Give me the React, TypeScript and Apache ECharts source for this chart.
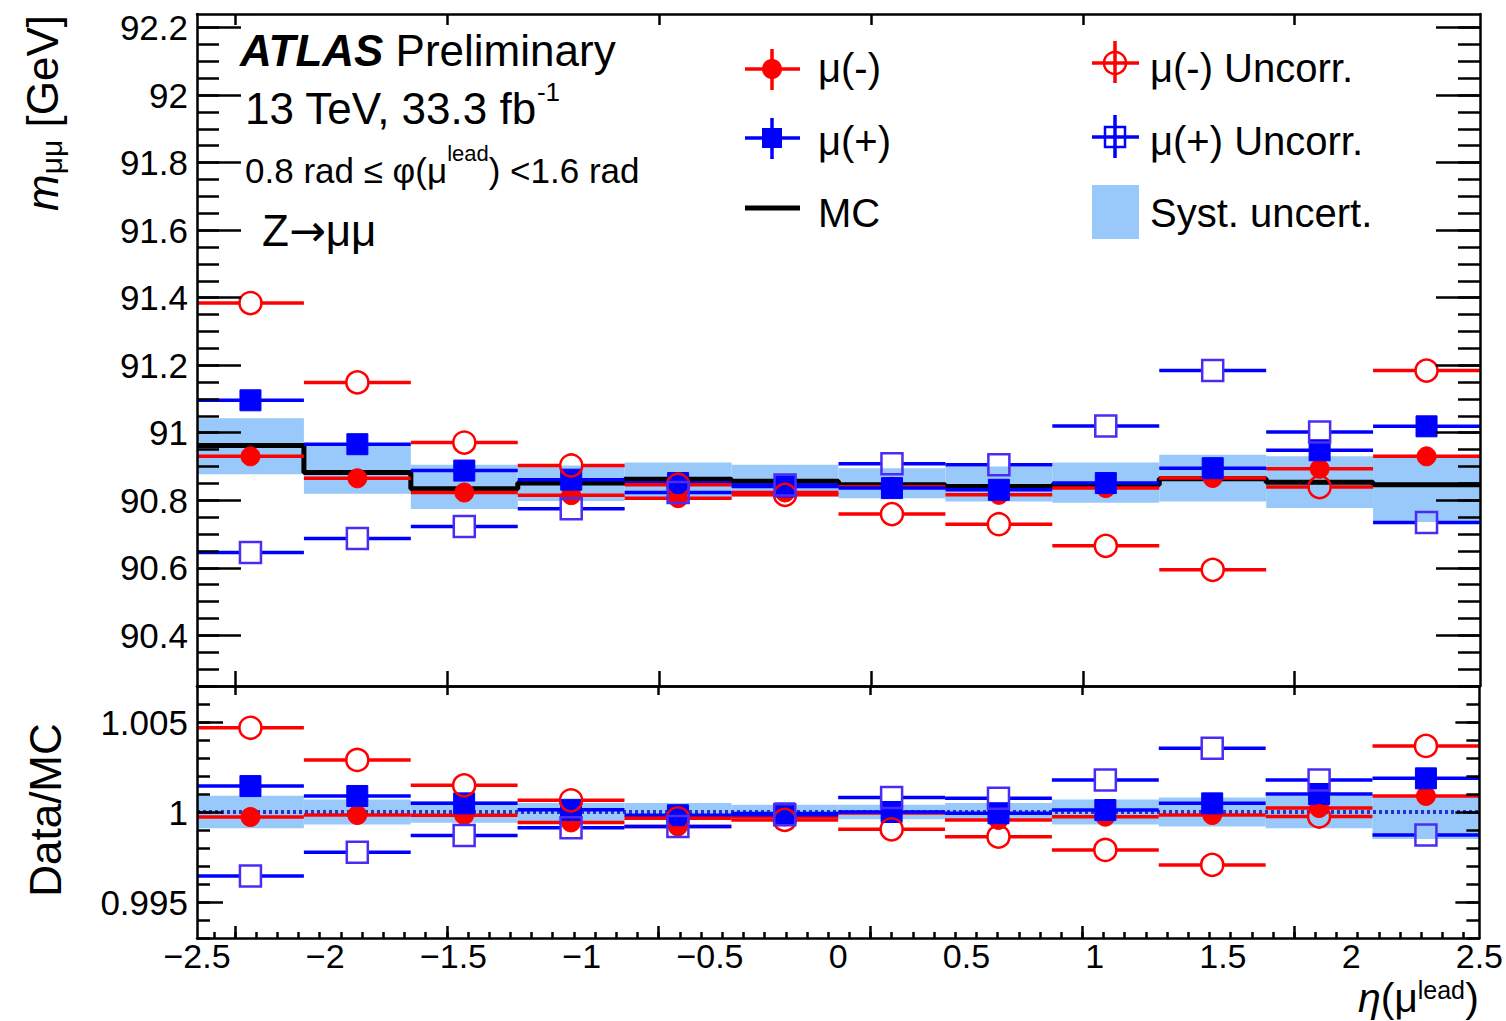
import React, { useEffect, useRef } from "react";
import * as echarts from "echarts";

const FONT = "'Liberation Sans', Arial, Helvetica, sans-serif";
const RED = "#ff0000";
const BLUE = "#0000ff";
const BLUE_OPEN = "#4a2cf5";
const BAND = "#99c9fa";

// eta(mu lead) binning
const binEdges = [-2.5, -2.0833, -1.6667, -1.25, -0.8333, -0.4167, 0, 0.4167, 0.8333, 1.25, 1.6667, 2.0833, 2.5];

// top panel: m_mumu [GeV]
const mcMass = [90.962, 90.882, 90.834, 90.851, 90.862, 90.856, 90.846, 90.841, 90.846, 90.864, 90.853, 90.846];
const systLow = [90.877, 90.819, 90.774, 90.798, 90.801, 90.811, 90.806, 90.796, 90.793, 90.796, 90.777, 90.736];
const systHigh = [91.043, 90.964, 90.905, 90.903, 90.912, 90.905, 90.895, 90.9, 90.912, 90.935, 90.93, 90.929];
const muMinus = [90.93, 90.865, 90.823, 90.815, 90.806, 90.823, 90.84, 90.816, 90.836, 90.866, 90.893, 90.93];
const muPlus = [91.096, 90.966, 90.888, 90.861, 90.851, 90.841, 90.836, 90.831, 90.851, 90.895, 90.948, 91.019];
const muMinusUncorr = [91.384, 91.149, 90.971, 90.903, 90.846, 90.816, 90.759, 90.729, 90.665, 90.594, 90.839, 91.184];
const muPlusUncorr = [90.645, 90.687, 90.722, 90.775, 90.823, 90.845, 90.908, 90.905, 91.02, 91.184, 91.002, 90.734];

// bottom panel: Data/MC
const ratioSystLow = [0.9991, 0.9993, 0.9994, 0.9995, 0.99955, 0.99955, 0.9996, 0.9996, 0.9993, 0.9992, 0.9991, 0.9985];
const ratioSystHigh = [1.0009, 1.0007, 1.0006, 1.0005, 1.0005, 1.0004, 1.0004, 1.0005, 1.0007, 1.0008, 1.0009, 1.0009];
const ratioMuMinus = [0.99972, 0.99983, 0.99982, 0.99942, 0.9992, 0.99975, 0.99994, 0.99956, 0.99974, 0.99983, 1.00022, 1.00089];
const ratioMuPlus = [1.00144, 1.00089, 1.00048, 1.00012, 0.99982, 0.99992, 1.0, 0.99993, 1.00011, 1.00048, 1.001, 1.00187];
const ratioMuMinusUncorr = [1.00468, 1.00289, 1.00148, 1.00065, 0.99965, 0.99956, 0.99904, 0.99863, 0.99789, 0.99706, 0.99975, 1.00367];
const ratioMuPlusUncorr = [0.99644, 0.99776, 0.9987, 0.99912, 0.9992, 0.99985, 1.0008, 1.00076, 1.00178, 1.00354, 1.00178, 0.99872];
const ratioRef = 1;

// axis ticks / labels
const xTickLabels = [-2.5, -2, -1.5, -1, -0.5, 0, 0.5, 1, 1.5, 2, 2.5];
const massTickLabels = [90.4, 90.6, 90.8, 91, 91.2, 91.4, 91.6, 91.8, 92, 92.2];
const ratioTickLabels = [0.995, 1, 1.005];
const frameTicksX = [-2.352, -1.526, -0.7, 0.126, 0.952, 1.778];

function steps(start: number, step: number, end: number) {
  const out: number[] = [];
  for (let k = 0; start + k * step <= end + 1e-9; k++) out.push(Number((start + k * step).toFixed(5)));
  return out;
}
const massMinorTicks = steps(90.25, 0.05, 92.24);
const ratioMinorTicks = steps(0.993, 0.001, 1.007);
const xMinorTicks = steps(-2.4346, 0.0826, 2.5);

const binCenters = binEdges.slice(0, -1).map((e, i) => (e + binEdges[i + 1]) / 2);

const tickLine = { color: "#000", width: 2.5 };
const frameLine = { color: "#000", width: 2.5 };

function xAx(grid: number, pos: string, ticks: number[], len: number, line = true, labels = false) {
  return {
    type: "value", gridIndex: grid, position: pos, min: -2.5, max: 2.5, z: 10,
    axisLine: { show: line, onZero: false, lineStyle: frameLine },
    axisTick: { show: true, inside: true, length: len, customValues: ticks, lineStyle: tickLine },
    axisLabel: labels
      ? {
          show: true, customValues: xTickLabels, margin: 1, fontSize: 34, lineHeight: 34, fontFamily: FONT, color: "#000",
          formatter: (v: number) => String(Number(v.toFixed(2))).replace("-", "\u2212"),
        }
      : { show: false },
    splitLine: { show: false },
  };
}

function yAx(grid: number, pos: string, min: number, max: number, ticks: number[], len: number, line = true, labels: number[] | null = null, digits = 2) {
  return {
    type: "value", gridIndex: grid, position: pos, min, max, z: 10,
    axisLine: { show: line, onZero: false, lineStyle: frameLine },
    axisTick: { show: true, inside: true, length: len, customValues: ticks, lineStyle: tickLine },
    axisLabel: labels
      ? {
          show: true, customValues: labels, margin: 9, fontSize: 35, fontFamily: FONT, color: "#000",
          formatter: (v: number) => String(Number(v.toFixed(digits))),
        }
      : { show: false },
    splitLine: { show: false },
  };
}

function bandSeries(name: string, low: number[], high: number[], xi: number, yi: number) {
  return {
    type: "custom", name, xAxisIndex: xi, yAxisIndex: yi, z: 2, silent: true,
    encode: { x: [0, 1], y: [2, 3] },
    data: low.map((l, i) => [binEdges[i], binEdges[i + 1], l, high[i]]),
    renderItem: (params: any, api: any) => {
      const p1 = api.coord([api.value(0), api.value(3)]);
      const p2 = api.coord([api.value(1), api.value(2)]);
      return {
        type: "rect",
        shape: { x: p1[0], y: p1[1], width: p2[0] - p1[0], height: p2[1] - p1[1] },
        style: { fill: BAND },
      };
    },
  };
}

function pointSeries(name: string, values: number[], xi: number, yi: number, marker: "circle" | "square", filled: boolean, lineColor: string, markColor: string, z: number) {
  const size = marker === "circle" ? (filled ? 9.5 : 11) : 10.5;
  return {
    type: "custom", name, xAxisIndex: xi, yAxisIndex: yi, z, silent: true,
    encode: { x: [0, 1, 2], y: 3 },
    data: values.map((v, i) => [binEdges[i], binCenters[i], binEdges[i + 1], v]),
    renderItem: (params: any, api: any) => {
      const y = api.value(3);
      const L = api.coord([api.value(0), y]);
      const C = api.coord([api.value(1), y]);
      const R = api.coord([api.value(2), y]);
      const gap = filled ? 0 : size;
      const ls = { stroke: lineColor, lineWidth: 3.5 };
      const children: any[] = [
        { type: "line", shape: { x1: L[0], y1: C[1], x2: C[0] - gap, y2: C[1] }, style: ls },
        { type: "line", shape: { x1: C[0] + gap, y1: C[1], x2: R[0], y2: C[1] }, style: ls },
      ];
      const mstyle = filled
        ? { fill: markColor, stroke: markColor, lineWidth: 1 }
        : { fill: "transparent", stroke: markColor, lineWidth: 2.5 };
      if (marker === "circle") {
        children.push({ type: "circle", shape: { cx: C[0], cy: C[1], r: size }, style: mstyle });
      } else {
        children.push({ type: "rect", shape: { x: C[0] - size, y: C[1] - size, width: 2 * size, height: 2 * size }, style: mstyle });
      }
      return { type: "group", children };
    },
  };
}

function txt(x: number, y: number, text: string, rich: any, align = "left", rotation = 0) {
  return {
    type: "text", x, y, z: 100, rotation, silent: true,
    style: { text, rich, align, verticalAlign: "middle", fill: "#000", fontFamily: FONT },
  };
}

function legendCross(cx: number, cy: number, x1: number, x2: number, y1: number, y2: number, color: string) {
  return [
    { type: "line", z: 100, shape: { x1, y1: cy, x2, y2: cy }, style: { stroke: color, lineWidth: 3.5 } },
    { type: "line", z: 100, shape: { x1: cx, y1, x2: cx, y2 }, style: { stroke: color, lineWidth: 3.5 } },
  ];
}

function buildOption() {
  const F = (size: number, extra: any = {}) => ({ fontSize: size, fontFamily: FONT, ...extra });
  // superscript: raised by half its bottom padding; subscript: lowered by half its top padding
  const sup = (size: number, raise: number) => F(size, { padding: [0, 0, 2 * raise, 0] });
  const sub = (size: number, lower: number) => F(size, { padding: [2 * lower, 0, 0, 0] });
  const graphic: any[] = [
    txt(240, 50, "{a|ATLAS}{p| Preliminary}", { a: F(44, { fontWeight: "bold", fontStyle: "italic" }), p: F(44) }),
    txt(245, 108, "{b|13 TeV, 33.3 fb}{s|-1}", { b: F(44), s: sup(26, 16) }),
    txt(245, 170, "{b|0.8 rad \u2264 \u03c6(\u03bc}{s|lead}{b|) <1.6 rad}", { b: F(35), s: sup(22, 17) }),
    txt(262, 230, "{b|Z}{a|\u2192}{b|\u03bc\u03bc}", { b: F(44), a: { fontSize: 44, fontFamily: "'DejaVu Sans', sans-serif" } }),
    // axis titles
    txt(42, 15, "{i|m}{s|\u03bc\u03bc}{b| [GeV]}", {
      i: F(44, { fontStyle: "italic" }),
      s: sub(30, 9),
      b: F(44),
    }, "right", Math.PI / 2),
    txt(45, 810, "{b|Data/MC}", { b: F(44) }, "center", Math.PI / 2),
    // eta(mu^lead), pieces placed right to left
    txt(1479, 998, "{b|)}", { b: F(41, { lineHeight: 41 }) }, "right"),
    txt(1465, 990, "{s|lead}", { s: F(25, { lineHeight: 25 }) }, "right"),
    txt(1418, 998, "{i|\u03b7}{b|(\u03bc}", { i: F(41, { fontStyle: "italic", lineHeight: 41 }), b: F(41, { lineHeight: 41 }) }, "right"),
    // legend column 1
    ...legendCross(772, 69, 745, 800, 49, 90, RED),
    { type: "circle", z: 101, shape: { cx: 772, cy: 69, r: 10 }, style: { fill: RED } },
    txt(818, 68, "{b|\u03bc(-)}", { b: F(40) }),
    ...legendCross(772, 138, 745, 800, 118, 159, BLUE),
    { type: "rect", z: 101, shape: { x: 762, y: 128, width: 20, height: 20 }, style: { fill: BLUE } },
    txt(818, 141, "{b|\u03bc(+)}", { b: F(40) }),
    { type: "line", z: 100, shape: { x1: 745, y1: 208, x2: 800, y2: 208 }, style: { stroke: "#000", lineWidth: 5 } },
    txt(818, 213, "{b|MC}", { b: F(40) }),
    // legend column 2
    ...legendCross(1115, 63, 1092, 1139, 41, 83, RED),
    { type: "circle", z: 101, shape: { cx: 1115, cy: 63, r: 11 }, style: { fill: "transparent", stroke: RED, lineWidth: 2.5 } },
    txt(1150, 68, "{b|\u03bc(-) Uncorr.}", { b: F(40) }),
    ...legendCross(1115, 137, 1092, 1139, 115, 158, BLUE),
    { type: "rect", z: 101, shape: { x: 1105, y: 127, width: 20, height: 20 }, style: { fill: "transparent", stroke: BLUE, lineWidth: 2.5 } },
    txt(1150, 141, "{b|\u03bc(+) Uncorr.}", { b: F(40) }),
    { type: "rect", z: 100, shape: { x: 1092, y: 185, width: 47, height: 54 }, style: { fill: BAND } },
    txt(1150, 213, "{b|Syst. uncert.}", { b: F(40) }),
  ];

  return {
    animation: false,
    backgroundColor: "#ffffff",
    textStyle: { fontFamily: FONT },
    grid: [
      { left: 197, top: 14, width: 1283, height: 672, show: false },
      { left: 197, top: 686, width: 1283, height: 252, show: false },
    ],
    xAxis: [
      xAx(0, "bottom", frameTicksX, 15),
      xAx(0, "top", frameTicksX, 11),
      xAx(1, "bottom", frameTicksX, 12, true, true),
      xAx(1, "bottom", xMinorTicks, 6, false),
      xAx(1, "top", frameTicksX, 9),
    ],
    yAxis: [
      yAx(0, "left", 90.25, 92.24, massTickLabels, 44, true, massTickLabels, 2),
      yAx(0, "left", 90.25, 92.24, massMinorTicks, 22, false),
      yAx(0, "right", 90.25, 92.24, massTickLabels, 44, true),
      yAx(0, "right", 90.25, 92.24, massMinorTicks, 22, false),
      yAx(1, "left", 0.993, 1.007, ratioTickLabels, 26, true, ratioTickLabels, 4),
      yAx(1, "left", 0.993, 1.007, ratioMinorTicks, 13, false),
      yAx(1, "right", 0.993, 1.007, ratioTickLabels, 24, true),
      yAx(1, "right", 0.993, 1.007, ratioMinorTicks, 13, false),
    ],
    graphic,
    series: [
      bandSeries("Syst. uncert.", systLow, systHigh, 0, 0),
      {
        type: "line", name: "MC", xAxisIndex: 0, yAxisIndex: 0, z: 3, step: "end", symbol: "none", silent: true,
        data: binEdges.map((e, i) => [e, mcMass[Math.min(i, mcMass.length - 1)]]),
        lineStyle: { color: "#000", width: 5 },
      },
      pointSeries("\u03bc(-)", muMinus, 0, 0, "circle", true, RED, RED, 4),
      pointSeries("\u03bc(+)", muPlus, 0, 0, "square", true, BLUE, BLUE, 5),
      pointSeries("\u03bc(-) Uncorr.", muMinusUncorr, 0, 0, "circle", false, RED, RED, 6),
      pointSeries("\u03bc(+) Uncorr.", muPlusUncorr, 0, 0, "square", false, BLUE, BLUE_OPEN, 7),

      bandSeries("Syst. uncert. ratio", ratioSystLow, ratioSystHigh, 2, 4),
      {
        type: "line", name: "MC ratio", xAxisIndex: 2, yAxisIndex: 4, z: 3, symbol: "none", silent: true,
        data: [[binEdges[0], ratioRef], [binEdges[binEdges.length - 1], ratioRef]],
        lineStyle: { color: "#2233cc", width: 4, type: [3, 3] },
      },
      pointSeries("\u03bc(-) ratio", ratioMuMinus, 2, 4, "circle", true, RED, RED, 4),
      pointSeries("\u03bc(+) ratio", ratioMuPlus, 2, 4, "square", true, BLUE, BLUE, 5),
      pointSeries("\u03bc(-) Uncorr. ratio", ratioMuMinusUncorr, 2, 4, "circle", false, RED, RED, 6),
      pointSeries("\u03bc(+) Uncorr. ratio", ratioMuPlusUncorr, 2, 4, "square", false, BLUE, BLUE_OPEN, 7),
    ],
  };
}

export default function App() {
  const ref = useRef<HTMLDivElement>(null);
  useEffect(() => {
    document.body.style.margin = "0";
    const chart = echarts.init(ref.current as HTMLDivElement, null, { renderer: "svg" });
    chart.setOption(buildOption() as any);
    return () => chart.dispose();
  }, []);
  return <div ref={ref} style={{ width: 1506, height: 1021 }} />;
}
